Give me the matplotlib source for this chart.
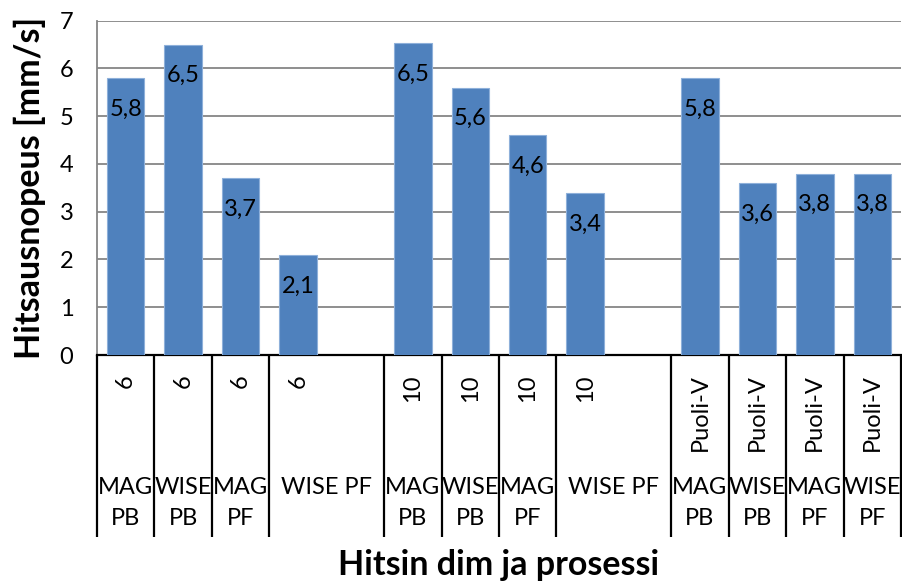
import matplotlib.pyplot as plt
from matplotlib.transforms import blended_transform_factory

plt.rcParams['font.family'] = ['Lato', 'DejaVu Sans']

# weld size (inner level) and process (outer level) for each bar
dims = ["6", "6", "6", "6",
        "10", "10", "10", "10",
        "Puoli-V", "Puoli-V", "Puoli-V", "Puoli-V"]
processes = ["MAG\nPB", "WISE\nPB", "MAG\nPF", "WISE PF",
             "MAG\nPB", "WISE\nPB", "MAG\nPF", "WISE PF",
             "MAG\nPB", "WISE\nPB", "MAG\nPF", "WISE\nPF"]
speeds = [5.8, 6.5, 3.7, 2.1,
          6.54, 5.6, 4.6, 3.4,
          5.8, 3.6, 3.8, 3.8]

# each group of four leaves one empty slot after it (except the last)
group_size = 4
slots = [i + i // group_size for i in range(len(speeds))]
n_slots = slots[-1] + 1

fig = plt.figure(figsize=(9.03, 5.85), dpi=100)
ax = fig.add_axes([97 / 903, 1 - 355 / 585, 804 / 903, 334.3 / 585])

ax.bar(slots, speeds, width=0.65, color='#4f81bd', edgecolor='#8eb0da',
       linewidth=0.8, zorder=3)

for x, v in zip(slots, speeds):
    ax.annotate(f"{v:.1f}".replace('.', ','), xy=(x, v), xytext=(0, -22.5),
                textcoords='offset points', ha='center', va='center',
                fontsize=17, color='black', zorder=4)

ax.set_xlim(-0.5, n_slots - 0.5)
ax.set_ylim(0, 7)
ax.set_yticks(range(8))
ax.yaxis.grid(True, color='#868686', linewidth=1.3, zorder=0)
ax.tick_params(axis='y', length=0, pad=17, labelsize=17)
ax.tick_params(axis='x', length=0, labelbottom=False)
ax.set_xticks([])

for side in ('top', 'right'):
    ax.spines[side].set_visible(False)
ax.spines['left'].set_color('#868686')
ax.spines['left'].set_linewidth(1.3)
ax.spines['bottom'].set_color('black')
ax.spines['bottom'].set_linewidth(1.6)

# multi-level category axis drawn below the plot area
trans = blended_transform_factory(ax.transData, ax.transAxes)
depth = -182 / 334.3

# cell boundaries: the last bar of a group shares its cell with the gap slot
bounds = [-0.5]
for i, s in enumerate(slots):
    last_in_group = (i % group_size == group_size - 1) and s != slots[-1]
    bounds.append(s + (1.5 if last_in_group else 0.5))
for b in bounds:
    ax.plot([b, b], [0, depth], transform=trans, color='black',
            linewidth=1.6, clip_on=False, solid_capstyle='butt')

for i, (s, d, p) in enumerate(zip(slots, dims, processes)):
    ax.annotate(d, xy=(s, 0), xycoords=trans, xytext=(0, -14),
                textcoords='offset points', rotation=90, ha='center',
                va='top', fontsize=17)
    last_in_group = (i % group_size == group_size - 1) and s != slots[-1]
    px = s + 0.5 if last_in_group else s
    ax.annotate(p, xy=(px, 0), xycoords=trans, xytext=(0, -88),
                textcoords='offset points', ha='center', va='top',
                fontsize=17, linespacing=1.6)

ax.set_ylabel("Hitsausnopeus [mm/s]", fontsize=24.5, fontweight='bold',
              labelpad=10)
fig.text((97 + 901) / 2 / 903, 1 - 565 / 585, "Hitsin dim ja prosessi",
         ha='center', va='center', fontsize=24.5, fontweight='bold')

fig.savefig('out.png', dpi=100)
